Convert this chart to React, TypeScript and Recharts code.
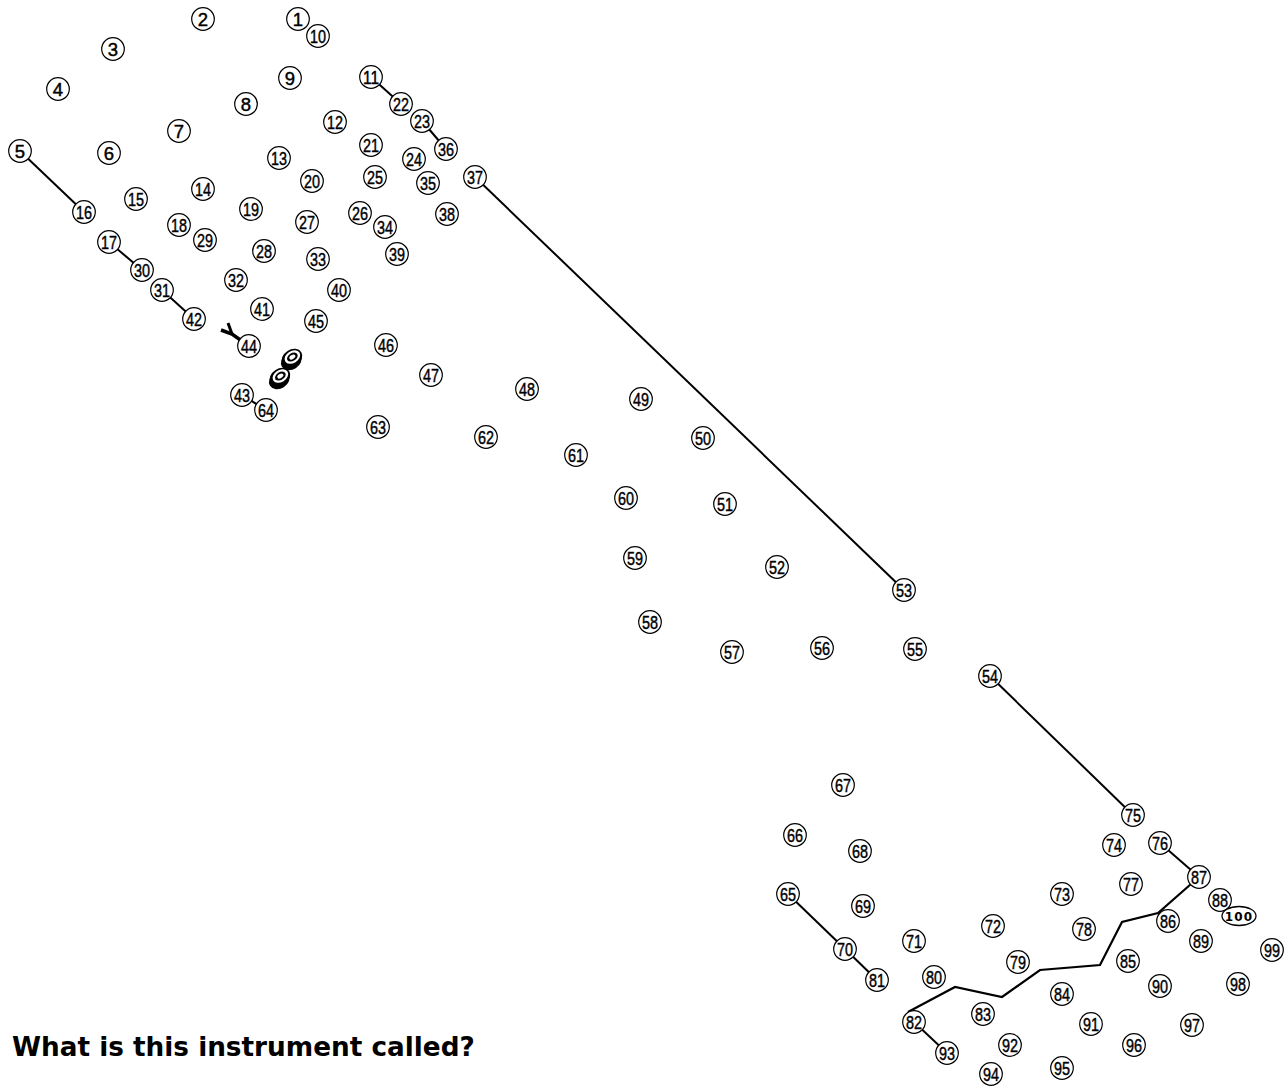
import { ScatterChart, Scatter, XAxis, YAxis } from 'recharts';

// dot positions, index i -> label i + 1 (picture pixels)
const dotX = [
  298, 203, 113, 58, 20, 109, 179, 246, 290, 318,
  371, 335, 279, 203, 136, 84, 109, 179, 251, 312,
  371, 401, 422, 414, 375, 360, 307, 264, 205, 142,
  162, 236, 318, 385, 428, 446, 475, 447, 397, 339,
  262, 194, 242, 249, 316, 386, 431, 527, 641, 703,
  725, 777, 904, 990, 915, 822, 732, 650, 635, 626,
  576, 486, 378, 266, 788, 795, 843, 860, 863, 845,
  914, 993, 1062, 1114, 1133, 1160, 1131, 1084, 1018, 934,
  877, 914, 983, 1062, 1128, 1168, 1199, 1220, 1201, 1160,
  1091, 1010, 947, 991, 1062, 1134, 1192, 1238, 1272, 1239,
];
const dotY = [
  19, 19, 49, 89, 151, 153, 131, 104, 78, 36,
  77, 122, 158, 189, 199, 212, 242, 225, 209, 181,
  145, 104, 121, 159, 177, 213, 222, 251, 240, 270,
  290, 280, 259, 227, 183, 149, 177, 214, 254, 290,
  309, 319, 395, 346, 321, 345, 375, 389, 399, 438,
  504, 567, 590, 676, 649, 648, 652, 622, 558, 498,
  455, 437, 427, 410, 894, 835, 785, 851, 906, 949,
  941, 926, 894, 845, 815, 843, 884, 929, 962, 977,
  980, 1022, 1014, 994, 961, 921, 877, 900, 941, 986,
  1024, 1045, 1053, 1074, 1068, 1045, 1025, 984, 950, 916,
];

// pre-drawn straight links between numbered dots
const links: [number, number][] = [
  [5, 16], [17, 30], [31, 42], [11, 22], [23, 36], [37, 53],
  [54, 75], [65, 70], [70, 81], [82, 93], [76, 87], [43, 64],
];

// crooked line from 82 up to 87
const ropeX = [908, 955, 1002, 1040, 1100, 1122, 1158, 1199];
const ropeY = [1012, 987, 997, 970, 965, 922, 913, 877];

// little fork next to 44
const forkStem = [{ x: 249, y: 346 }, { x: 232, y: 334 }, { x: 221, y: 330 }];
const forkProng = [{ x: 232, y: 334 }, { x: 228, y: 323 }];

// the two ring marks
const ringX = [292, 280];
const ringY = [358, 377];

const W = 1288;
const H = 1086;

const dots = dotX.map((x, i) => ({ x, y: dotY[i], n: i + 1 }));
const rope = ropeX.map((x, i) => ({ x, y: ropeY[i] }));
const rings = ringX.map((x, i) => ({ x, y: ringY[i] }));
const linkData = links.map(([a, b]) => [dots[a - 1], dots[b - 1]]);

function Dot(props: any) {
  const { cx, cy, payload } = props;
  const n = payload.n;
  if (n === 100) {
    return (
      <g>
        <ellipse cx={cx} cy={cy} rx={17} ry={9.5} fill="#fff" stroke="#000" strokeWidth={1.3} />
        <text x={cx} y={cy + 4.5} textAnchor="middle" fontFamily="DejaVu Sans" fontWeight="bold" fontSize={12} letterSpacing={1.2}>100</text>
      </g>
    );
  }
  const two = n > 9;
  return (
    <g>
      <circle cx={cx} cy={cy} r={11.3} fill="#fff" stroke="#000" strokeWidth={1.2} />
      <text
        x={cx}
        y={cy + 6.5}
        textAnchor="middle"
        fontFamily="Liberation Sans Narrow, Liberation Sans, sans-serif"
        fontSize={18.5}
        stroke="#000"
        strokeWidth={0.45}
        {...(two ? { textLength: 16, lengthAdjust: 'spacingAndGlyphs' } : {})}
      >
        {n}
      </text>
    </g>
  );
}

function Ring(props: any) {
  const { cx, cy } = props;
  return (
    <g transform={`rotate(-32 ${cx} ${cy})`}>
      <ellipse cx={cx - 2.2} cy={cy + 2.2} rx={11} ry={8.4} fill="#000" />
      <ellipse cx={cx} cy={cy} rx={11} ry={8.4} fill="#000" />
      <ellipse cx={cx + 0.8} cy={cy - 0.6} rx={8.4} ry={6} fill="#fff" />
      <ellipse cx={cx + 0.8} cy={cy - 0.6} rx={5.8} ry={3.9} fill="#000" />
      <ellipse cx={cx + 0.8} cy={cy - 0.6} rx={3.3} ry={2} fill="#fff" />
    </g>
  );
}

const noShape = () => <g />;

export default function App() {
  return (
    <div style={{ position: 'absolute', left: 0, top: 0, width: W, height: H, background: '#fff' }}>
      <ScatterChart width={W} height={H} margin={{ top: 0, right: 0, bottom: 0, left: 0 }}>
        <XAxis type="number" dataKey="x" domain={[0, W]} hide />
        <YAxis type="number" dataKey="y" domain={[0, H]} reversed hide />
        {linkData.map((d, i) => (
          <Scatter key={`l${i}`} data={d} line={{ stroke: '#000', strokeWidth: 2 }} shape={noShape} isAnimationActive={false} />
        ))}
        <Scatter data={rope} line={{ stroke: '#000', strokeWidth: 2.2 }} shape={noShape} isAnimationActive={false} />
        <Scatter data={forkStem} line={{ stroke: '#000', strokeWidth: 3.5 }} shape={noShape} isAnimationActive={false} />
        <Scatter data={forkProng} line={{ stroke: '#000', strokeWidth: 3 }} shape={noShape} isAnimationActive={false} />
        <Scatter data={rings} shape={Ring} isAnimationActive={false} />
        <Scatter data={dots} shape={Dot} isAnimationActive={false} />
      </ScatterChart>
      <div
        style={{
          position: 'absolute',
          left: 12,
          top: 1032,
          fontFamily: 'DejaVu Sans, Verdana, sans-serif',
          fontWeight: 'bold',
          fontSize: 26.3,
          lineHeight: '30px',
          whiteSpace: 'nowrap',
        }}
      >
        What is this instrument called?
      </div>
    </div>
  );
}
